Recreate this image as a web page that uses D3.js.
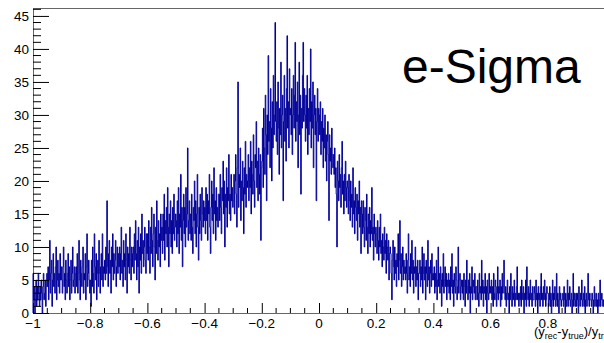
<!DOCTYPE html>
<html>
<head>
<meta charset="utf-8">
<script src="https://cdn.jsdelivr.net/npm/d3@7"></script>
<style>
  html, body { margin: 0; padding: 0; background: #fff; }
  svg { display: block; font-family: "Liberation Sans", Arial, Helvetica, sans-serif; }
</style>
</head>
<body>
<svg id="chart" width="604" height="343"></svg>
<script>
// Histogram of (y_rec - y_true)/y_true, 1000 bins over [-1, 1]
const xMin = -1, xMax = 1;
const counts = [
  /* -1.00 */ 6,2,4,0,3,5,1,4,2,6,3,1,4,2,5,3,0,4,6,2,3,5,1,4,6,
  /* -0.95 */ 4,7,2,5,11,3,6,8,1,5,9,4,6,3,7,10,2,5,8,4,6,3,9,5,7,
  /* -0.90 */ 5,3,7,10,4,6,2,8,5,3,6,9,4,7,2,5,8,3,6,10,4,5,7,3,6,
  /* -0.85 */ 7,4,9,3,6,11,5,2,8,6,4,7,10,3,6,5,9,2,7,12,4,6,8,5,3,
  /* -0.80 */ 5,1,8,4,10,6,3,12,7,5,9,2,6,8,4,11,6,3,7,9,5,12,4,7,6,
  /* -0.75 */ 8,5,10,6,17,7,4,9,11,6,8,3,10,7,12,5,9,6,8,11,4,7,10,6,9,
  /* -0.70 */ 7,10,5,9,13,6,8,4,11,7,9,5,12,8,3,10,7,9,6,13,8,5,10,7,9,
  /* -0.65 */ 10,6,12,8,14,9,5,11,7,13,3,10,8,12,6,15,9,11,7,10,13,8,6,12,9,
  /* -0.60 */ 12,8,14,10,6,13,9,16,11,7,12,15,10,5,13,9,17,11,8,14,10,12,7,15,11,
  /* -0.55 */ 13,9,15,11,18,8,14,12,16,10,19,13,7,15,12,17,10,14,9,16,12,18,11,13,15,
  /* -0.50 */ 14,10,17,12,19,9,15,13,21,11,16,7,14,18,12,16,10,19,13,15,25,11,14,17,12,
  /* -0.45 */ 15,11,18,13,9,16,14,20,12,17,10,15,21,13,8,16,12,18,14,11,19,15,13,17,14,
  /* -0.40 */ 16,12,19,14,18,11,17,15,21,13,9,16,20,14,18,12,22,15,17,11,19,14,16,13,18,
  /* -0.35 */ 18,14,21,16,12,19,17,23,15,20,10,18,16,22,13,19,17,24,15,18,14,21,17,19,16,
  /* -0.30 */ 17,21,15,20,24,18,13,22,35,16,21,19,25,14,20,17,23,19,12,22,18,26,16,21,19,
  /* -0.25 */ 20,24,17,22,19,26,15,23,21,18,27,20,16,24,22,29,19,23,17,25,21,18,24,11,22,
  /* -0.20 */ 23,28,19,31,25,21,33,27,17,30,24,39,26,29,22,34,28,20,32,25,36,27,30,44,29,
  /* -0.15 */ 26,32,24,35,28,21,31,27,38,25,30,33,17,29,36,26,31,23,34,42,28,32,25,37,30,
  /* -0.10 */ 31,27,34,24,30,36,28,33,41,26,32,29,35,22,30,38,27,33,18,31,28,36,41,29,34,
  /* -0.05 */ 30,26,33,28,36,24,31,27,34,29,40,25,32,28,35,22,30,33,27,31,17,29,34,26,31,
  /*  0.00 */ 30,27,32,24,29,26,31,22,28,25,30,23,27,20,26,29,24,14,27,23,25,21,28,24,22,
  /*  0.05 */ 24,21,25,19,22,18,10,23,20,17,24,19,21,16,22,26,18,20,15,21,17,23,19,16,20,
  /*  0.10 */ 19,15,21,17,14,20,16,18,13,22,15,17,12,19,16,14,18,11,17,15,20,13,16,9,17,
  /*  0.15 */ 15,12,17,13,10,16,14,11,18,13,9,15,12,16,10,14,12,19,11,13,8,15,12,10,13,
  /*  0.20 */ 12,9,14,11,8,13,10,15,9,11,7,12,10,8,13,9,11,6,12,10,8,11,5,9,10,
  /*  0.25 */ 9,6,2,8,11,7,5,10,6,8,4,9,7,12,5,8,14,6,9,4,7,10,5,8,6,
  /*  0.30 */ 7,5,9,6,3,8,12,5,7,4,9,6,11,5,8,3,7,6,10,4,7,5,8,2,6,
  /*  0.35 */ 6,8,4,7,5,10,3,6,9,5,7,2,8,6,4,11,5,7,3,6,8,4,9,5,6,
  /*  0.40 */ 5,7,3,6,4,8,2,5,10,4,6,3,7,5,1,6,4,9,3,5,7,4,6,2,5,
  /*  0.45 */ 4,6,3,5,2,7,4,9,3,5,1,6,4,3,7,5,2,4,10,3,5,6,2,4,5,
  /*  0.50 */ 3,5,2,6,4,1,5,3,8,4,2,5,3,6,0,4,3,7,2,5,4,3,6,2,4,
  /*  0.55 */ 4,2,5,3,1,6,3,4,2,8,3,5,1,4,3,6,2,4,0,5,3,2,6,3,4,
  /*  0.60 */ 3,5,2,4,1,6,3,2,5,4,1,3,7,2,4,3,5,1,4,2,6,3,4,8,3,
  /*  0.65 */ 2,4,1,3,5,2,3,0,4,2,6,3,1,4,2,3,5,1,3,2,4,7,2,3,1,
  /*  0.70 */ 3,2,4,1,5,3,2,4,0,3,2,5,1,7,3,2,4,1,3,5,2,3,1,4,2,
  /*  0.75 */ 2,4,3,1,5,2,3,0,4,2,3,1,4,6,2,3,1,4,2,5,3,1,2,4,3,
  /*  0.80 */ 3,1,2,4,1,3,0,2,5,1,3,2,4,1,2,6,1,3,2,0,4,2,3,1,2,
  /*  0.85 */ 2,3,1,4,2,0,3,1,2,5,1,3,2,4,1,2,3,0,2,6,1,3,2,1,3,
  /*  0.90 */ 1,3,2,0,4,2,1,3,2,5,1,2,3,1,4,0,2,3,1,2,6,2,1,3,2,
  /*  0.95 */ 2,1,3,2,0,2,4,1,2,3,1,2,0,3,1,2,5,1,2,3,2,1,2,1,2
];
const yTicks = [0, 5, 10, 15, 20, 25, 30, 35, 40, 45];
const xTicks = [-1, -0.8, -0.6, -0.4, -0.2, 0, 0.2, 0.4, 0.6, 0.8];
const title = "e-Sigma";

const svg = d3.select("#chart");
const frame = { left: 33, right: 605, top: 8, bottom: 313 };
const yMaxVal = d3.max(counts) * 1.05;

const x = d3.scaleLinear().domain([xMin, xMax]).range([frame.left, frame.right]);
const y = d3.scaleLinear().domain([0, yMaxVal]).range([frame.bottom, frame.top]);

// frame outline
svg.append("rect")
  .attr("x", frame.left).attr("y", frame.top)
  .attr("width", frame.right - frame.left).attr("height", frame.bottom - frame.top)
  .attr("fill", "none").attr("stroke", "#666").attr("stroke-width", 1)
  .attr("shape-rendering", "crispEdges");

// step outline of the histogram
const nb = counts.length;
const bw = (xMax - xMin) / nb;
const pts = [[xMin, 0]];
counts.forEach((c, i) => {
  pts.push([xMin + i * bw, c]);
  pts.push([xMin + (i + 1) * bw, c]);
});
pts.push([xMax, 0]);
const line = d3.line().x(d => x(d[0])).y(d => y(d[1]));
svg.append("path")
  .attr("d", line(pts))
  .attr("fill", "none")
  .attr("stroke", "#000099")
  .attr("stroke-width", 1);

// y axis: ticks drawn inward
const yAxis = d3.axisRight(y)
  .tickValues(yTicks)
  .tickSize(16)
  .tickFormat("");
const yg = svg.append("g").attr("transform", `translate(${frame.left},0)`).call(yAxis);
yg.select(".domain").remove();
yg.selectAll(".tick line").attr("stroke", "#000");
const yMinor = d3.range(0, 47, 1).filter(v => v % 5 !== 0 && v <= yMaxVal);
svg.append("g").selectAll("line").data(yMinor).join("line")
  .attr("x1", frame.left).attr("x2", frame.left + 8)
  .attr("y1", d => y(d)).attr("y2", d => y(d))
  .attr("stroke", "#000").attr("stroke-width", 1);
svg.append("g").selectAll("text").data(yTicks).join("text")
  .attr("x", 29).attr("y", d => y(d) + 5)
  .attr("text-anchor", "end")
  .attr("font-size", 13.5)
  .attr("fill", "#000")
  .text(d => d);

// x axis: ticks pointing up into the frame
const xAxis = d3.axisTop(x)
  .tickValues(xTicks.concat([1]))
  .tickSize(10)
  .tickFormat("");
const xg = svg.append("g").attr("transform", `translate(0,${frame.bottom})`).call(xAxis);
xg.select(".domain").remove();
xg.selectAll(".tick line").attr("stroke", "#000");
const xMinor = d3.range(-20, 21).map(k => k * 0.05).filter(v => Math.abs(Math.round(v * 5) - v * 5) > 1e-6);
svg.append("g").selectAll("line").data(xMinor).join("line")
  .attr("x1", d => x(d)).attr("x2", d => x(d))
  .attr("y1", frame.bottom).attr("y2", frame.bottom - 5)
  .attr("stroke", "#000").attr("stroke-width", 1);
svg.append("g").selectAll("text").data(xTicks).join("text")
  .attr("x", d => x(d)).attr("y", 328)
  .attr("text-anchor", "middle")
  .attr("font-size", 13.5)
  .attr("fill", "#000")
  .text(d => (d < 0 ? "\u2212" : "") + d3.format("~g")(Math.abs(d)));

// x axis title
const xt = svg.append("text")
  .attr("x", 534).attr("y", 336)
  .attr("font-size", 13)
  .attr("fill", "#000");
xt.append("tspan").text("(y");
xt.append("tspan").attr("font-size", 9).attr("dy", 3).text("rec");
xt.append("tspan").attr("dy", -3).text("-y");
xt.append("tspan").attr("font-size", 9).attr("dy", 3).text("true");
xt.append("tspan").attr("dy", -3).text(")/y");
xt.append("tspan").attr("font-size", 9).attr("dy", 3).text("true");

// title
svg.append("text")
  .attr("x", 402).attr("y", 83)
  .attr("font-size", 48)
  .attr("fill", "#000")
  .text(title);
</script>
</body>
</html>
